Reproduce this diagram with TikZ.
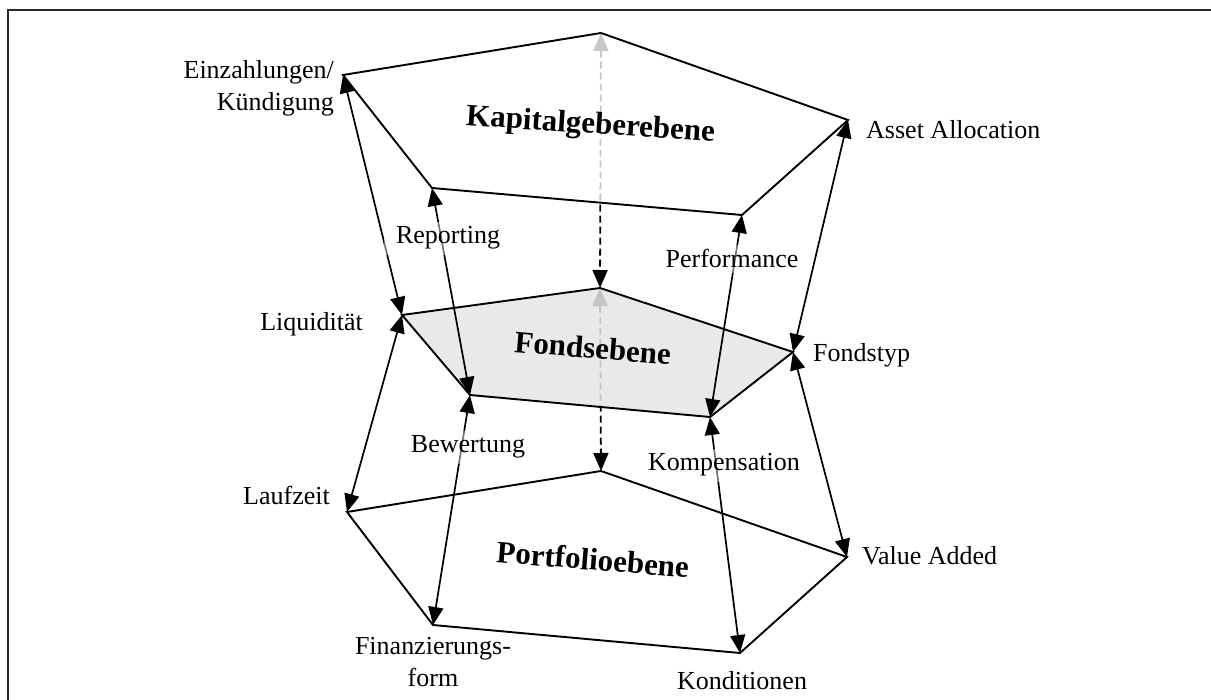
\documentclass[tikz,border=0pt]{standalone}
\usepackage{fontspec}
\setmainfont{Liberation Serif}
\usetikzlibrary{arrows.meta}
\begin{document}
\begin{tikzpicture}[x=1pt,y=-1pt,
  edge/.style={line width=1.9pt, line join=miter},
  link/.style={line width=1.7pt,
    {Triangle[length=18pt,width=15pt]}-{Triangle[length=18pt,width=15pt]}},
  hidden/.style={line width=1.8pt, dash pattern=on 7pt off 4pt,
    {Triangle[length=18pt,width=15pt]}-{Triangle[length=18pt,width=15pt]}},
  lbl/.style={font=\fontsize{26}{32}\selectfont, inner sep=0pt},
  tag/.style={lbl, fill=white, fill opacity=0.45, text opacity=1,
    inner xsep=12pt, inner ysep=5pt, anchor=base},
  level/.style={font=\bfseries\fontsize{31}{36}\selectfont, inner sep=0pt, anchor=base}
]
\useasboundingbox (0,0) rectangle (1211,700);

% outer frame
\draw[line width=2.5pt, black!85] (8,700) -- (8,10) -- (1211,10);

% corners of the three levels
\coordinate (T1) at (601,33);
\coordinate (T2) at (343,75);
\coordinate (T3) at (432,188);
\coordinate (T4) at (742,215);
\coordinate (T5) at (848,120);
\coordinate (M1) at (600,288);
\coordinate (M2) at (402,315);
\coordinate (M3) at (470,395);
\coordinate (M4) at (710,417);
\coordinate (M5) at (793,352);
\coordinate (B1) at (601,471);
\coordinate (B2) at (347,512);
\coordinate (B3) at (433,625);
\coordinate (B4) at (740,653);
\coordinate (B5) at (847,557);

% central links, partly hidden behind the planes
\draw[hidden] (T1) -- (M1);
\draw[hidden] (M1) -- (B1);

% the planes
\fill[white, fill opacity=0.78] (T1) -- (T5) -- (T4) -- (T3) -- (T2) -- cycle;
\fill[black!10, fill opacity=0.86] (M1) -- (M5) -- (M4) -- (M3) -- (M2) -- cycle;
\draw[edge] (T1) -- (T5) -- (T4) -- (T3) -- (T2) -- cycle;
\draw[edge] (M1) -- (M5) -- (M4) -- (M3) -- (M2) -- cycle;
\draw[edge] (B1) -- (B5) -- (B4) -- (B3) -- (B2) -- cycle;

% links between corresponding corners
\draw[link] (T2) -- (M2);
\draw[link] (M2) -- (B2);
\draw[link] (T3) -- (M3);
\draw[link] (M3) -- (B3);
\draw[link] (T4) -- (M4);
\draw[link] (M4) -- (B4);
\draw[link] (T5) -- (M5);
\draw[link] (M5) -- (B5);

% level titles
\node[level, rotate=-3.8] (kap) at (590,133.5) {Kapitalgeberebene};
\node[level, rotate=-4.7] (fonds) at (592,358.5) {Fondsebene};
\node[level, rotate=-4.6] (port) at (592,570) {Portfolioebene};

% corner labels
\node[lbl, anchor=east, align=right] (einz) at (334,88) {Einzahlungen/\\Kündigung};
\node[lbl, anchor=base west] (asset) at (866,139) {Asset Allocation};
\node[lbl, anchor=base east] (liq) at (363,331) {Liquidität};
\node[lbl, anchor=base west] (ftyp) at (813,362) {Fondstyp};
\node[lbl, anchor=base east] (lauf) at (330,504) {Laufzeit};
\node[lbl, anchor=base west] (va) at (862,565) {Value Added};
\node[lbl, anchor=north, align=center] (fin) at (433,637) {Finanzierungs-\\form};
\node[lbl, anchor=base] (kond) at (742,689) {Konditionen};

% labels on the links
\node[tag] (rep) at (448,244) {Reporting};
\node[tag] (perf) at (732,268) {Performance};
\node[tag] (bew) at (468,453) {Bewertung};
\node[tag] (komp) at (724,471) {Kompensation};
\end{tikzpicture}
\end{document}
